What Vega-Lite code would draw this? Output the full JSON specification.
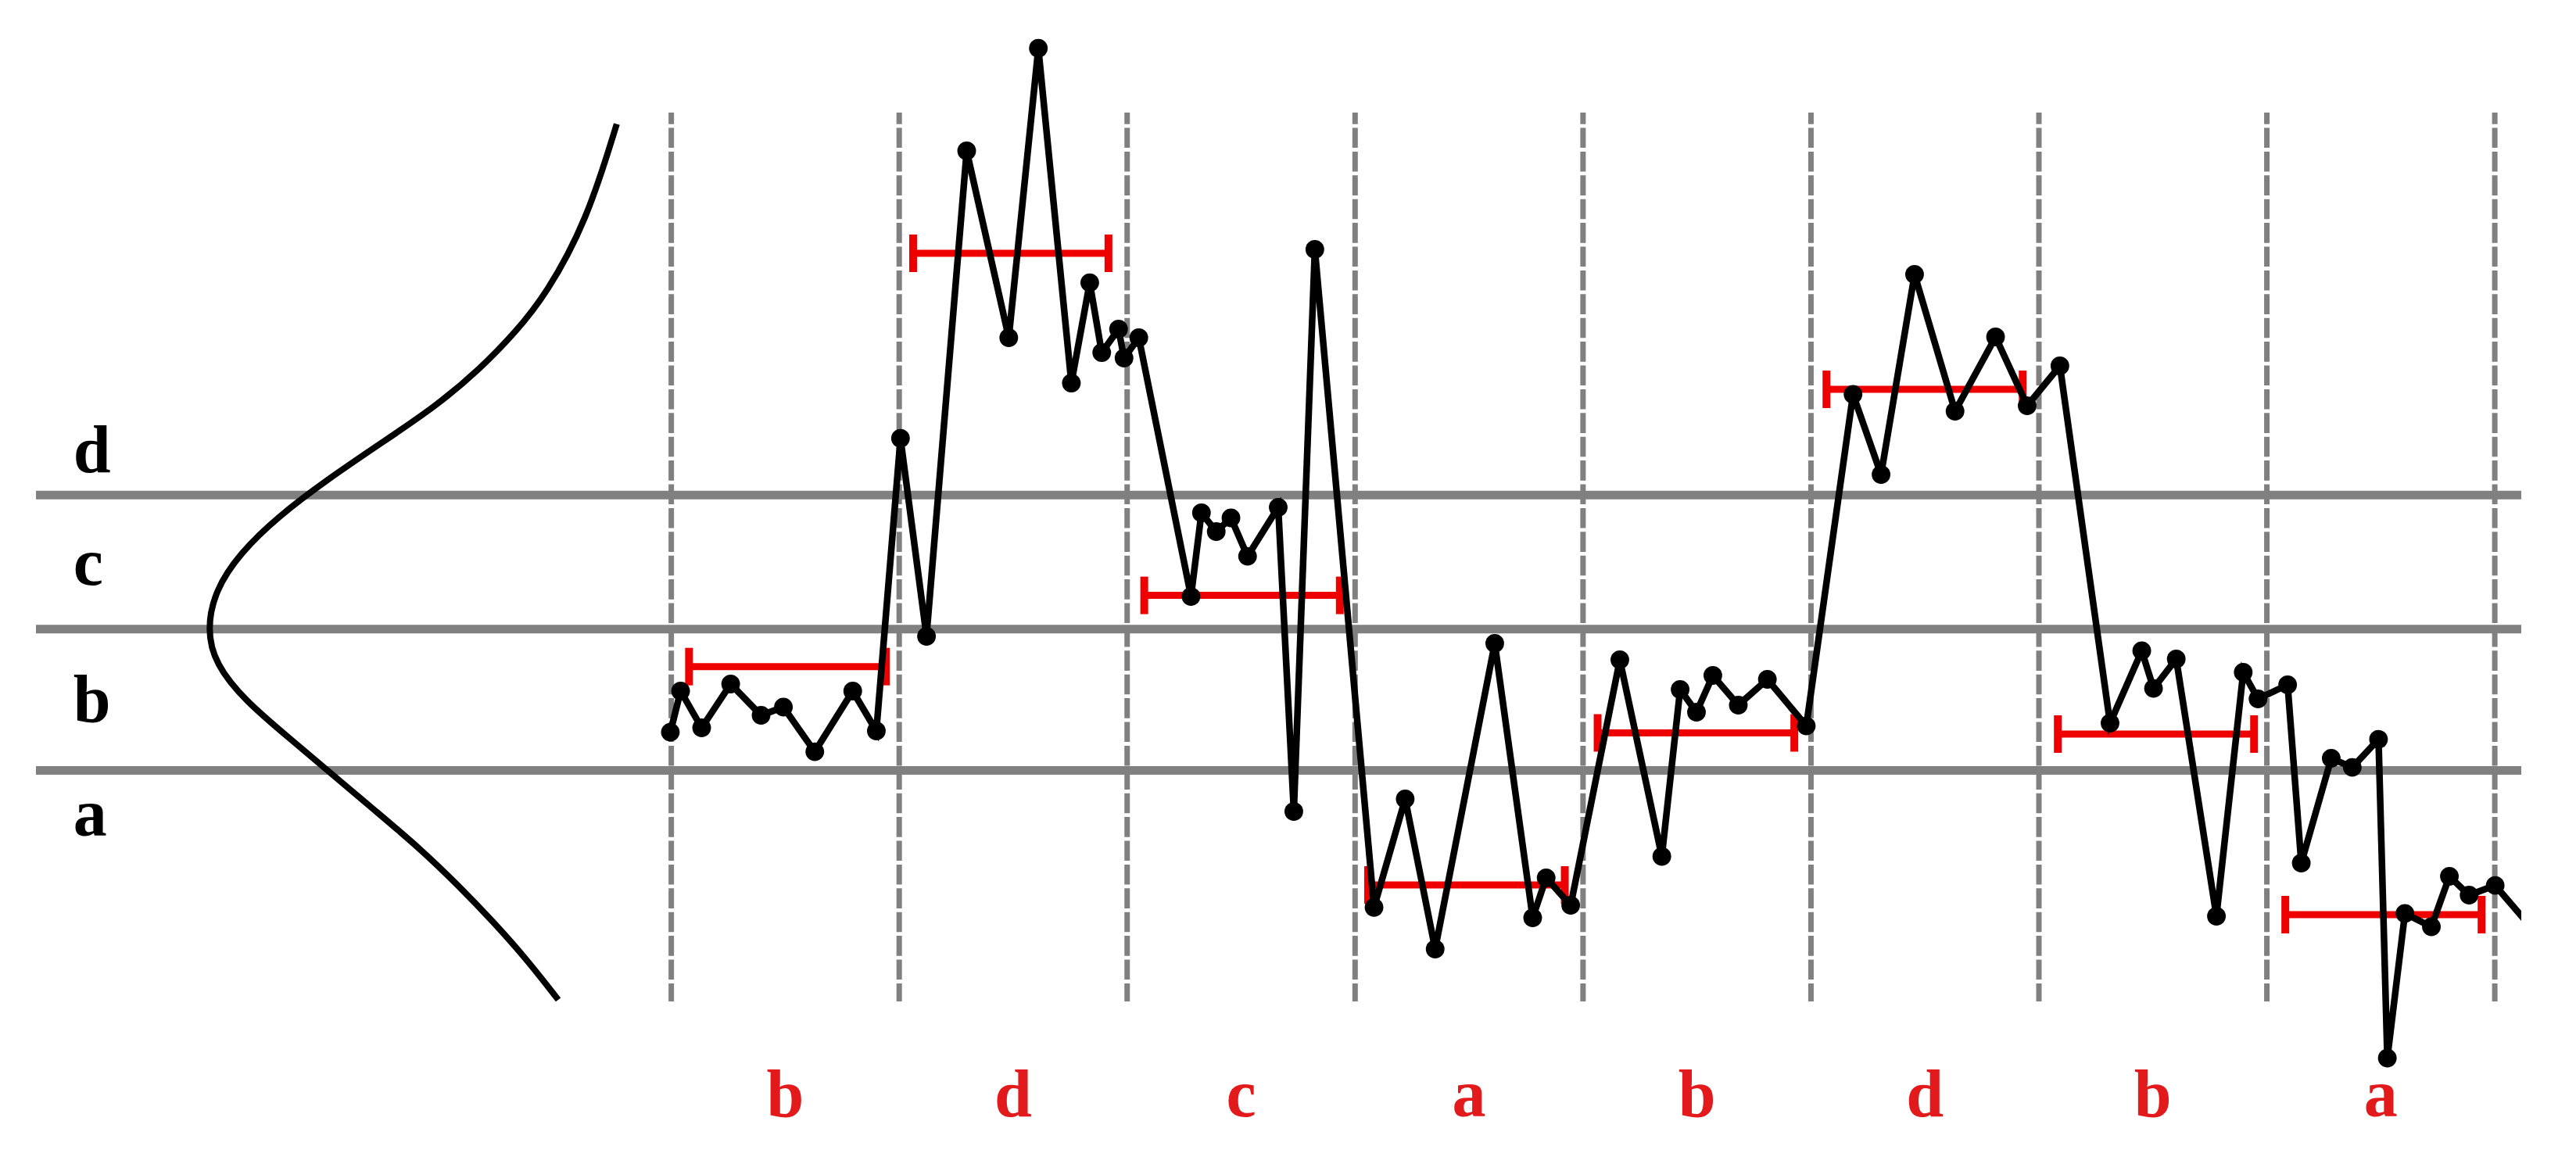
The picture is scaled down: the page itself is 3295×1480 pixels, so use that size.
{
  "$schema": "https://vega.github.io/schema/vega-lite/v6.json",
  "width": 3295,
  "height": 1480,
  "autosize": {"type": "fit", "contains": "padding"},
  "padding": {"left": 40, "right": 64, "top": 0, "bottom": 0},
  "background": "white",
  "config": {"view": {"stroke": null}},
  "datasets": {
    "breaks": [{"v": 0.6592}, {"v": 0}, {"v": -0.6954}],
    "bounds": [{"t": 0}, {"t": 1}, {"t": 2}, {"t": 3}, {"t": 4}, {"t": 5}, {"t": 6}, {"t": 7}, {"t": 8}],
    "levels": [
      {"letter": "d", "x": -2.6232, "v": 0.7719},
      {"letter": "c", "x": -2.6232, "v": 0.22},
      {"letter": "b", "x": -2.6232, "v": -0.455},
      {"letter": "a", "x": -2.6232, "v": -1.0181}
    ],
    "paa": [
      {"seg": 1, "start": 0.078, "end": 0.942, "mid": 0.5, "v": -0.1846, "letter": "b"},
      {"seg": 2, "start": 1.061, "end": 1.918, "mid": 1.5, "v": 1.8488, "letter": "d"},
      {"seg": 3, "start": 2.075, "end": 2.933, "mid": 2.5, "v": 0.1658, "letter": "c"},
      {"seg": 4, "start": 3.057, "end": 3.92, "mid": 3.5, "v": -1.2588, "letter": "a"},
      {"seg": 5, "start": 4.064, "end": 4.927, "mid": 4.5, "v": -0.5108, "letter": "b"},
      {"seg": 6, "start": 5.068, "end": 5.929, "mid": 5.5, "v": 1.1796, "letter": "d"},
      {"seg": 7, "start": 6.083, "end": 6.944, "mid": 6.5, "v": -0.5165, "letter": "b"},
      {"seg": 8, "start": 7.081, "end": 7.942, "mid": 7.5, "v": -1.405, "letter": "a"}
    ],
    "curve": [
      {"x": -0.2392, "v": 2.485},
      {"x": -0.3711, "v": 2.0058},
      {"x": -0.5508, "v": 1.6431},
      {"x": -0.6827, "v": 1.4615},
      {"x": -0.8385, "v": 1.28},
      {"x": -1.0302, "v": 1.0985},
      {"x": -1.2701, "v": 0.9169},
      {"x": -1.5096, "v": 0.7354},
      {"x": -1.7252, "v": 0.5538},
      {"x": -1.8933, "v": 0.3723},
      {"x": -2.001, "v": 0.1908},
      {"x": -2.0368, "v": 0},
      {"x": -2.001, "v": -0.1723},
      {"x": -1.8691, "v": -0.3538},
      {"x": -1.6774, "v": -0.535},
      {"x": -1.4857, "v": -0.7165},
      {"x": -1.294, "v": -0.8981},
      {"x": -1.1023, "v": -1.0796},
      {"x": -0.9342, "v": -1.2612},
      {"x": -0.7787, "v": -1.4427},
      {"x": -0.6349, "v": -1.6242},
      {"x": -0.4958, "v": -1.8238}
    ],
    "series": [
      {"t": -0.0041, "v": -0.5073}, {"t": 0.041, "v": -0.305}, {"t": 0.1333, "v": -0.4858}, {"t": 0.2607, "v": -0.2704},
      {"t": 0.394, "v": -0.4242}, {"t": 0.492, "v": -0.3838}, {"t": 0.6297, "v": -0.6035}, {"t": 0.7961, "v": -0.305},
      {"t": 0.8997, "v": -0.5012}, {"t": 1.0056, "v": 0.9385},
      {"t": 1.1197, "v": -0.0358}, {"t": 1.296, "v": 2.3527}, {"t": 1.4806, "v": 1.4335}, {"t": 1.6104, "v": 2.8577},
      {"t": 1.7553, "v": 1.2104}, {"t": 1.8359, "v": 1.7042}, {"t": 1.8885, "v": 1.3604}, {"t": 1.9623, "v": 1.4758},
      {"t": 1.9863, "v": 1.3335}, {"t": 2.0512, "v": 1.4335},
      {"t": 2.2801, "v": 0.1604}, {"t": 2.3259, "v": 0.5719}, {"t": 2.3908, "v": 0.4796}, {"t": 2.4554, "v": 0.5469},
      {"t": 2.5282, "v": 0.3581}, {"t": 2.6628, "v": 0.5988}, {"t": 2.7312, "v": -0.8973}, {"t": 2.8234, "v": 1.8681},
      {"t": 3.0831, "v": -1.3692}, {"t": 3.2198, "v": -0.8358}, {"t": 3.3513, "v": -1.5742}, {"t": 3.6127, "v": -0.0704},
      {"t": 3.7791, "v": -1.4204}, {"t": 3.8382, "v": -1.2242}, {"t": 3.9459, "v": -1.3588},
      {"t": 4.1615, "v": -0.1512}, {"t": 4.3457, "v": -1.1185}, {"t": 4.426, "v": -0.2973}, {"t": 4.4977, "v": -0.4088},
      {"t": 4.5695, "v": -0.2281}, {"t": 4.6812, "v": -0.3742}, {"t": 4.8087, "v": -0.2473}, {"t": 4.9795, "v": -0.4765},
      {"t": 5.1845, "v": 1.1546}, {"t": 5.3075, "v": 0.7604}, {"t": 5.4545, "v": 1.745}, {"t": 5.6321, "v": 1.0719},
      {"t": 5.8098, "v": 1.4373}, {"t": 5.9485, "v": 1.0988}, {"t": 6.0921, "v": 1.295},
      {"t": 6.3121, "v": -0.4627}, {"t": 6.4512, "v": -0.1069}, {"t": 6.5028, "v": -0.2919}, {"t": 6.6025, "v": -0.1473},
      {"t": 6.7788, "v": -1.4127}, {"t": 6.8964, "v": -0.2127}, {"t": 6.9613, "v": -0.3435}, {"t": 7.0912, "v": -0.2742},
      {"t": 7.151, "v": -1.1512}, {"t": 7.2825, "v": -0.6358}, {"t": 7.3748, "v": -0.6804}, {"t": 7.4899, "v": -0.5423},
      {"t": 7.5285, "v": -2.1108}, {"t": 7.6058, "v": -1.3992}, {"t": 7.7219, "v": -1.4646}, {"t": 7.8009, "v": -1.2165},
      {"t": 7.8873, "v": -1.3088}, {"t": 8.0018, "v": -1.2612}, {"t": 8.2222, "v": -1.5496}
    ]
  },
  "layer": [
    {
      "data": {"name": "breaks"},
      "mark": {"type": "rule", "stroke": "#808080", "strokeWidth": 11},
      "encoding": {
        "y": {"field": "v", "type": "quantitative", "scale": {"domain": [-2.5973, 3.095], "nice": false, "zero": false}, "axis": null}
      }
    },
    {
      "data": {"name": "bounds"},
      "mark": {"type": "rule", "stroke": "#808080", "strokeWidth": 7, "strokeDash": [25.6, 4.8], "strokeDashOffset": 10.9},
      "encoding": {
        "x": {"field": "t", "type": "quantitative", "scale": {"domain": [-2.7872, 8.1162], "nice": false, "zero": false}, "axis": null},
        "y": {"datum": 2.5412, "type": "quantitative", "scale": {"domain": [-2.5973, 3.095], "nice": false, "zero": false}, "axis": null},
        "y2": {"datum": -1.8319}
      }
    },
    {
      "data": {"name": "paa"},
      "mark": {"type": "rule", "stroke": "#ee0000", "strokeWidth": 9},
      "encoding": {
        "x": {"field": "start", "type": "quantitative", "scale": {"domain": [-2.7872, 8.1162], "nice": false, "zero": false}, "axis": null},
        "x2": {"field": "end"},
        "y": {"field": "v", "type": "quantitative", "scale": {"domain": [-2.5973, 3.095], "nice": false, "zero": false}, "axis": null}
      }
    },
    {
      "data": {"name": "paa"},
      "mark": {"type": "tick", "orient": "vertical", "size": 48, "thickness": 10, "color": "#ee0000", "opacity": 1},
      "encoding": {
        "x": {"field": "start", "type": "quantitative", "scale": {"domain": [-2.7872, 8.1162], "nice": false, "zero": false}, "axis": null},
        "y": {"field": "v", "type": "quantitative", "scale": {"domain": [-2.5973, 3.095], "nice": false, "zero": false}, "axis": null}
      }
    },
    {
      "data": {"name": "paa"},
      "mark": {"type": "tick", "orient": "vertical", "size": 48, "thickness": 10, "color": "#ee0000", "opacity": 1},
      "encoding": {
        "x": {"field": "end", "type": "quantitative", "scale": {"domain": [-2.7872, 8.1162], "nice": false, "zero": false}, "axis": null},
        "y": {"field": "v", "type": "quantitative", "scale": {"domain": [-2.5973, 3.095], "nice": false, "zero": false}, "axis": null}
      }
    },
    {
      "data": {"name": "curve"},
      "mark": {"type": "line", "color": "black", "strokeWidth": 8, "interpolate": "basis"},
      "encoding": {
        "x": {"field": "x", "type": "quantitative", "scale": {"domain": [-2.7872, 8.1162], "nice": false, "zero": false}, "axis": null},
        "y": {"field": "v", "type": "quantitative", "scale": {"domain": [-2.5973, 3.095], "nice": false, "zero": false}, "axis": null},
        "order": {"field": "v", "type": "quantitative"}
      }
    },
    {
      "data": {"name": "series"},
      "mark": {"type": "line", "color": "black", "strokeWidth": 8.5, "clip": true},
      "encoding": {
        "x": {"field": "t", "type": "quantitative", "scale": {"domain": [-2.7872, 8.1162], "nice": false, "zero": false}, "axis": null},
        "y": {"field": "v", "type": "quantitative", "scale": {"domain": [-2.5973, 3.095], "nice": false, "zero": false}, "axis": null}
      }
    },
    {
      "data": {"name": "series"},
      "mark": {"type": "circle", "color": "black", "size": 570, "opacity": 1, "clip": true},
      "encoding": {
        "x": {"field": "t", "type": "quantitative", "scale": {"domain": [-2.7872, 8.1162], "nice": false, "zero": false}, "axis": null},
        "y": {"field": "v", "type": "quantitative", "scale": {"domain": [-2.5973, 3.095], "nice": false, "zero": false}, "axis": null}
      }
    },
    {
      "data": {"name": "levels"},
      "mark": {"type": "text", "font": "Liberation Serif", "fontWeight": "bold", "fontSize": 86, "align": "left", "baseline": "alphabetic", "color": "black"},
      "encoding": {
        "x": {"field": "x", "type": "quantitative", "scale": {"domain": [-2.7872, 8.1162], "nice": false, "zero": false}, "axis": null},
        "y": {"field": "v", "type": "quantitative", "scale": {"domain": [-2.5973, 3.095], "nice": false, "zero": false}, "axis": null},
        "text": {"field": "letter"}
      }
    },
    {
      "data": {"name": "paa"},
      "mark": {"type": "text", "font": "Liberation Serif", "fontWeight": "bold", "fontSize": 86, "align": "center", "baseline": "alphabetic", "color": "#e31a1c"},
      "encoding": {
        "x": {"field": "mid", "type": "quantitative", "scale": {"domain": [-2.7872, 8.1162], "nice": false, "zero": false}, "axis": null},
        "y": {"datum": -2.3973, "type": "quantitative", "scale": {"domain": [-2.5973, 3.095], "nice": false, "zero": false}, "axis": null},
        "text": {"field": "letter"}
      }
    }
  ]
}
